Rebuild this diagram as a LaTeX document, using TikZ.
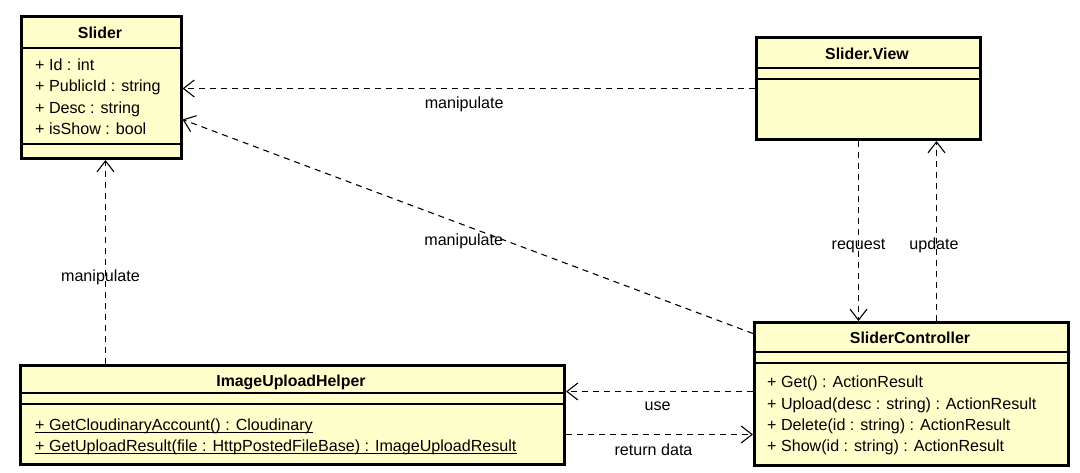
\documentclass[tikz,border=0pt]{standalone}
\usepackage{fontspec}
\setmainfont{Liberation Sans}
\usetikzlibrary{arrows.meta,calc}
\definecolor{classfill}{RGB}{255,255,204}
\begin{document}
\begin{tikzpicture}[x=1pt,y=-1pt,
  font=\fontsize{16.1}{19}\selectfont,
  classbox/.style={draw, line width=3pt, fill=classfill, anchor=north west,
    inner sep=0pt},
  sepline/.style={line width=1.3pt},
  member/.style={anchor=base west, inner sep=0pt},
  title/.style={anchor=base, inner sep=0pt, font=\fontsize{15.9}{19}\selectfont\bfseries},
  dep/.style={line width=1.1pt, dash pattern=on 6pt off 5pt,
    -{Straight Barb[length=11pt,width=17pt,line width=1.1pt]}},
  lbl/.style={anchor=base, inner sep=0pt}]

\useasboundingbox (0,0) rectangle (1080,473);

% ---- class boxes ----
\node[classbox, minimum width=159.5pt, minimum height=141.5pt] (slider) at (20,15.5) {};
\node[classbox, minimum width=224pt, minimum height=102pt] (view) at (755,36) {};
\node[classbox, minimum width=314pt, minimum height=143pt] (ctrl) at (753,321) {};
\node[classbox, minimum width=544pt, minimum height=99pt] (helper) at (19,364) {};

% compartment separators
\draw[sepline] (20,48) -- (179.5,48);
\draw[sepline] (20,144) -- (179.5,144);
\draw[sepline] (755,68) -- (979,68);
\draw[sepline] (755,79) -- (979,79);
\draw[sepline] (753,352) -- (1067,352);
\draw[sepline] (753,363) -- (1067,363);
\draw[sepline] (19,393) -- (563,393);
\draw[sepline] (19,404) -- (563,404);

% ---- Slider ----
\node[title] (sliderT) at (100,39) {Slider};
\node[member] (sa1) at (35,71) {+ Id : int};
\node[member] (sa2) at (35,92) {+ PublicId : string};
\node[member] (sa3) at (35,114) {+ Desc : string};
\node[member] (sa4) at (35,135) {+ isShow : bool};

% ---- Slider.View ----
\node[title] (viewT) at (867,60) {Slider.View};

% ---- SliderController ----
\node[title] (ctrlT) at (910,344) {SliderController};
\node[member] (cm1) at (767,388) {+ Get() : ActionResult};
\node[member] (cm2) at (767,409) {+ Upload(desc : string) : ActionResult};
\node[member] (cm3) at (767,430) {+ Delete(id : string) : ActionResult};
\node[member] (cm4) at (767,451) {+ Show(id : string) : ActionResult};

% ---- ImageUploadHelper (static members underlined) ----
\node[title] (helperT) at (291,386) {ImageUploadHelper};
\node[member] (hm1) at (35,430) {+ GetCloudinaryAccount() : Cloudinary};
\node[member] (hm2) at (35,451) {+ GetUploadResult(file : HttpPostedFileBase) : ImageUploadResult};
\draw[line width=1pt] ([yshift=-2pt]hm1.base west) -- ([yshift=-2pt]hm1.base east);
\draw[line width=1pt] ([yshift=-2pt]hm2.base west) -- ([yshift=-2pt]hm2.base east);

% ---- dependencies ----
\draw[dep] (view.west) -- node[lbl, pos=0.508, yshift=-20pt] {manipulate}
  (view.west -| slider.east);

\coordinate (c2s) at ($(ctrl.north west)+(0,12.5)$);
\coordinate (c2e) at ($(slider.north east)+(0,104)$);
\draw[dep] (c2s) -- node[lbl, pos=0.507, yshift=-20.4pt] {manipulate} (c2e);

\coordinate (c3s) at ($(helper.north west)+(86.5,0)$);
\draw[dep] (c3s) -- node[lbl, pos=0.404, xshift=-5pt] {manipulate} (c3s |- slider.south);

\coordinate (c4s) at ($(view.south west)+(103.5,0)$);
\draw[dep] (c4s) -- node[lbl, pos=0.603] {request} (c4s |- ctrl.north);

\coordinate (c5s) at ($(ctrl.north west)+(183.5,0)$);
\draw[dep] (c5s) -- node[lbl, pos=0.397, xshift=-2.5pt] {update} (c5s |- view.south);

\coordinate (c6s) at ($(ctrl.north west)+(0,70.5)$);
\draw[dep] (c6s) -- node[lbl, pos=0.51, yshift=-19pt] {use} (c6s -| helper.east);

\coordinate (c7s) at ($(helper.north east)+(0,70.5)$);
\draw[dep] (c7s) -- node[lbl, pos=0.468, yshift=-21pt] {return data} (c7s -| ctrl.west);

\end{tikzpicture}
\end{document}
